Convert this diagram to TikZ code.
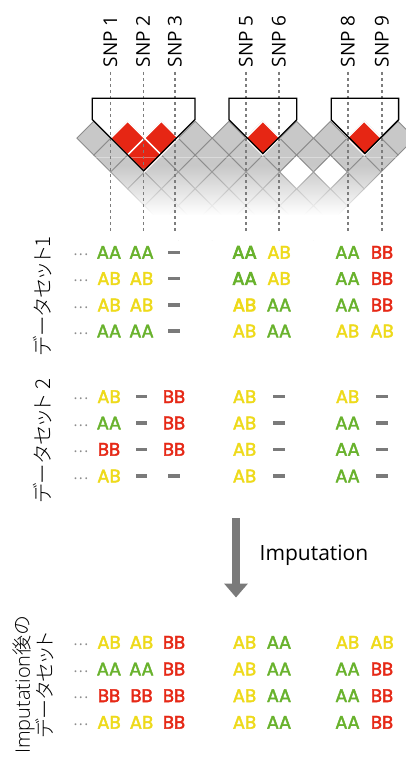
\documentclass[tikz,border=0pt]{standalone}
\usepackage{fontspec}
\setmainfont{Open Sans}
\newfontfamily\genofont{Poppins}[FakeBold=2.2]
\newfontfamily\genofontb{Poppins}[FakeBold=4]
\IfFontExistsTF{Noto Sans CJK JP Light}
  {\newfontfamily\jpfont{Noto Sans CJK JP Light}[RawFeature=+palt]}
  {\newfontfamily\jpfont{Noto Sans CJK JP}[RawFeature=+palt]}
\IfFontExistsTF{Open Sans Light}
  {\newfontfamily\latlight{Open Sans Light}}
  {\newfontfamily\latlight{Open Sans}}
\usetikzlibrary{arrows.meta,fadings}
\tikzfading[name=fadedown, top color=transparent!100, bottom color=transparent!0]
\definecolor{cG}{RGB}{104,178,44}
\definecolor{cY}{RGB}{238,218,26}
\definecolor{cR}{RGB}{230,40,22}
\definecolor{cDash}{RGB}{122,122,122}
\definecolor{cEll}{RGB}{140,140,140}
\definecolor{cArrow}{RGB}{122,122,122}
\definecolor{ldFill}{RGB}{200,200,200}
\definecolor{ldLine}{RGB}{140,140,140}
\definecolor{ldRed}{RGB}{230,38,20}
\definecolor{snpLine}{RGB}{125,125,125}
\newcommand\ldcell[3]{%
  \pgfmathsetmacro\cellx{76.9+33.8*(#1+#2)/2}%
  \pgfmathsetmacro\celly{138.2+(#2-#1-1)*16.9}%
  \path[#3] (\cellx-16.9,\celly) -- (\cellx,\celly-16.9) -- (\cellx+16.9,\celly) -- (\cellx,\celly+16.9) -- cycle;}
\newcommand\genorow[3]{%
  \node[ellp] (#1e) at (81,#2+3.2) {.\hspace{1.3pt}.\hspace{1.3pt}.};
  \foreach \st/\tx [count=\k] in {#3}{%
    \pgfmathsetmacro\colx{{109,141.5,174,244.5,279,347.5,382}[\k-1]}%
    \node[\st] (#1c\k) at (\colx,#2) {\tx};
  }%
}
\begin{document}
\begin{tikzpicture}[x=1pt,y=-1pt,
  snp/.style={rotate=90, anchor=base west, inner sep=0, font=\fontsize{19}{22}\selectfont},
  geno/.style={inner sep=0, font=\genofont\fontsize{18.2}{20}\selectfont},
  gG/.style={geno, text=cG}, gY/.style={geno, text=cY}, gR/.style={geno, text=cR},
  gGB/.style={inner sep=0, text=cG, font=\genofontb\fontsize{18.2}{20}\selectfont},
  gYB/.style={inner sep=0, text=cY, font=\genofontb\fontsize{18.2}{20}\selectfont},
  gD/.style={rectangle, fill=cDash, minimum width=11.5pt, minimum height=3.3pt, inner sep=0},
  ellp/.style={anchor=base, inner sep=0, text=cEll, font=\fontsize{15}{18}\selectfont},
  jpl/.style={rotate=90, inner sep=0, font=\jpfont\fontsize{20.5}{24}\selectfont},
  ldgray/.style={fill=ldFill, draw=ldLine, line width=0.9pt},
  ldwhite/.style={fill=white, draw=ldLine, line width=0.9pt},
  ldred/.style={fill=ldRed, draw=white, line width=1.4pt},
  snpdash/.style={draw=snpLine, line width=1.1pt, dash pattern=on 3pt off 3pt},
  blk/.style={draw=black, line width=1.3pt, line join=miter}]
\fill[white] (0,0) rectangle (406,760);
\useasboundingbox (0,0) rectangle (406,760);
% LD plot
\foreach \k in {1,...,6}{
  \foreach \i in {0,...,9}{
    \pgfmathtruncatemacro\jj{\i+\k}
    \ifnum\jj<11 \ldcell{\i}{\jj}{ldgray}\fi
  }
}
\ldcell{5}{8}{ldwhite}
\ldcell{6}{9}{ldwhite}
\ldcell{1}{2}{ldred}
\ldcell{2}{3}{ldred}
\ldcell{1}{3}{ldred}
\ldcell{5}{6}{ldred}
\ldcell{8}{9}{ldred}
\draw[white, opacity=0.35, line width=0.8pt] (70,157.5) -- (406,157.5);
\fill[white, path fading=fadedown] (60,165) rectangle (420,215);
\fill[white] (60,214.5) rectangle (420,240);
% SNP dashed lines and labels
\foreach \x/\l [count=\n] in {110.7/1,143.3/2,175/3,246/5,279/6,348/8,382/9}{
  \coordinate (dt\n) at (\x,72);
  \coordinate (db\n) at (\x,233);
  \draw[snpdash] (dt\n) -- (db\n);
  \node[snp] (snp\n) at (\x+6.5,67.5) {SNP \l};
}
% haplotype blocks
\draw[blk] (92.3,98.3) -- (195,98.3) -- (195,119.5) -- (143.65,170.85) -- (92.3,119.5) -- cycle;
\draw[blk] (229,98.3) -- (296.7,98.3) -- (296.7,119.8) -- (262.85,153.65) -- (229,119.8) -- cycle;
\draw[blk] (331.2,98.3) -- (398.6,98.3) -- (398.6,119.8) -- (364.9,153.5) -- (331.2,119.8) -- cycle;
% dataset 1
\genorow{da}{252.3}{gG/AA,gG/AA,gD/{},gGB/AA,gY/AB,gG/AA,gR/BB}
\genorow{db}{278.5}{gY/AB,gY/AB,gD/{},gGB/AA,gY/AB,gG/AA,gR/BB}
\genorow{dc}{305}{gY/AB,gY/AB,gD/{},gYB/AB,gG/AA,gG/AA,gR/BB}
\genorow{dd}{331}{gG/AA,gG/AA,gD/{},gY/AB,gG/AA,gY/AB,gY/AB}
% dataset 2
\genorow{ea}{396.7}{gY/AB,gD/{},gR/BB,gY/AB,gD/{},gY/AB,gD/{}}
\genorow{eb}{423}{gG/AA,gD/{},gR/BB,gY/AB,gD/{},gG/AA,gD/{}}
\genorow{ec}{449.3}{gR/BB,gD/{},gR/BB,gY/AB,gD/{},gG/AA,gD/{}}
\genorow{ed}{476}{gY/AB,gD/{},gD/{},gY/AB,gD/{},gG/AA,gD/{}}
% imputed
\genorow{fa}{642.3}{gY/AB,gY/AB,gR/BB,gY/AB,gG/AA,gY/AB,gY/AB}
\genorow{fb}{669}{gG/AA,gG/AA,gR/BB,gY/AB,gG/AA,gG/AA,gR/BB}
\genorow{fc}{695.7}{gR/BB,gR/BB,gR/BB,gY/AB,gG/AA,gG/AA,gR/BB}
\genorow{fd}{722.3}{gY/AB,gY/AB,gR/BB,gY/AB,gG/AA,gG/AA,gR/BB}
% side labels
\node[jpl] (lab1) at (42.5,296) {データセット1};
\node[jpl] (lab2) at (42.5,441) {データセット 2};
\node[jpl, align=center, font=\jpfont\fontsize{20}{19.5}\selectfont] (lab3) at (33.5,685) {{\latlight Imputation}後の\\データセット};
% arrow
\coordinate (arS) at (236,518);
\coordinate (arE) at (236,597.5);
\draw[draw=cArrow, line width=8pt, -{Triangle[width=23pt,length=14pt]}] (arS) -- (arE);
\node[anchor=base west, inner sep=0, font=\fontsize{21}{24}\selectfont] (implab) at (259.5,560) {Imputation};
\end{tikzpicture}
\end{document}
